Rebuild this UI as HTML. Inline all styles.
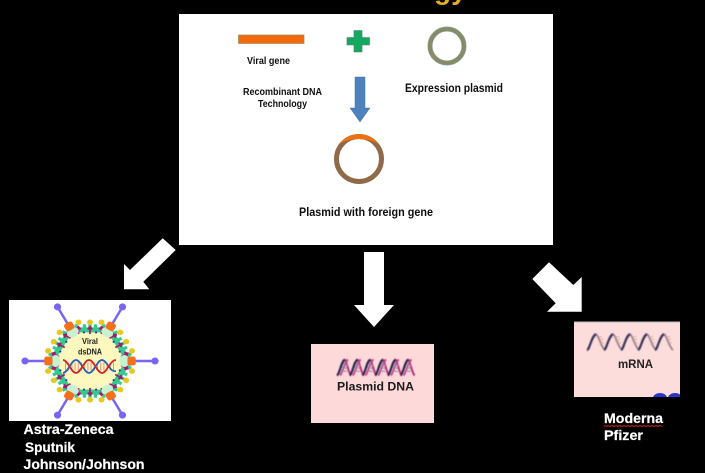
<!DOCTYPE html>
<html>
<head>
<meta charset="utf-8">
<style>
html,body{margin:0;padding:0;background:#000;}
svg{display:block;}
text{font-family:"Liberation Sans",sans-serif;font-weight:bold;}
</style>
</head>
<body>
<svg width="705" height="473" viewBox="0 0 705 473" xmlns="http://www.w3.org/2000/svg">
<defs>
<filter id="b" x="-5%" y="-5%" width="110%" height="110%"><feGaussianBlur stdDeviation="0.3"/></filter>
<filter id="h" x="-5%" y="-10%" width="110%" height="120%"><feGaussianBlur stdDeviation="0.45"/></filter>
<g id="edge">
  <rect x="-17" y="-33" width="34" height="5" fill="#35c98c"/>
  <g fill="#35c98c">
    <rect x="-14" y="-36" width="3" height="5"/><rect x="-6.500" y="-36" width="3" height="5"/><rect x="-1.500" y="-36" width="3" height="5"/><rect x="3.500" y="-36" width="3" height="5"/><rect x="11" y="-36" width="3" height="5"/>
  </g>
  <g fill="#e8c81f">
    <circle cx="-10.500" cy="-38" r="2.700"/><circle cx="0" cy="-38" r="2.700"/><circle cx="10.500" cy="-38" r="2.700"/>
  </g>
  <g stroke="#a8146e" stroke-width="1.600" fill="none">
    <path d="M-10.500 -26.500V-33.500M-12.500 -31L-10.500 -33.500L-8.500 -31"/>
    <path d="M0 -26.500V-33.500M-2 -31L0 -33.500L2 -31"/>
    <path d="M10.500 -26.500V-33.500M8.500 -31L10.500 -33.500L12.500 -31"/>
  </g>
  <g fill="#3030a8">
    <circle cx="-5.500" cy="-28" r="1"/><circle cx="5.500" cy="-28" r="1"/>
  </g>
</g>
<g id="spike">
  <ellipse cx="0" cy="-33" rx="6" ry="4.500" fill="#c5f2d2"/>
  <line x1="0" y1="-42" x2="0" y2="-62.500" stroke="#7766f0" stroke-width="2.400"/>
  <circle cx="0" cy="-62.500" r="3.500" fill="#7766f0"/>
  <rect x="-4.500" y="-44" width="9" height="8" rx="2.500" fill="#f5701a"/>
</g>
<g id="m">
  <path d="M9 1C12 3 14 14 18 17" fill="none" stroke="#8f7f8c" stroke-width="1.700"/>
  <path d="M11 8l5 -2M12.500 11.500l4 -2M11 4.500l4 -1" fill="none" stroke="#c8a090" stroke-width="0.900"/>
  <path d="M0 17C3 16 4 4 9 1" fill="none" stroke="#35355c" stroke-width="2.200"/>
</g>
<g id="p">
  <path d="M7 1C9 4 10 13 13 17" fill="none" stroke="#b82f80" stroke-width="2"/>
  <path d="M2 17C5 14 6 4 10 1" fill="none" stroke="#c03a8a" stroke-width="1.800"/>
  <path d="M3 8l6 2M3 12l6 1M5 5l5 2" stroke="#8f88a0" stroke-width="1" fill="none"/>
  <path d="M-1 17C2 15 3 3 7 1" fill="none" stroke="#23234c" stroke-width="2.200"/>
</g>
</defs>

<rect width="705" height="473" fill="#000"/>
<text x="434" y="-1" font-size="28" fill="#e6ac27">gy</text>

<!-- top panel -->
<rect x="179" y="14" width="374" height="231" fill="#fff"/>
<g filter="url(#b)">
  <rect x="238.500" y="35" width="65.500" height="8.500" fill="#f26b0f" stroke="#9a8a50" stroke-width="0.700"/>
  <path d="M354 30.500h8v7h7.500v7.500h-7.500v7h-8v-7h-7v-7.500h7z" fill="#18a860" stroke="#4a7a60" stroke-width="0.600"/>
  <circle cx="447" cy="46" r="17" fill="none" stroke="#7fa0a0" stroke-width="5"/>
  <circle cx="447" cy="46" r="17" fill="none" stroke="#8c8a62" stroke-width="3.600"/>
  <path d="M355 77h10v31h5l-10 14l-10-14h5z" fill="#4f81bd" stroke="#41719c" stroke-width="0.500"/>
  <circle cx="359" cy="159" r="22.500" fill="none" stroke="#8e6a48" stroke-width="5"/>
  <path d="M339.500 143.500A25 25 0 0 1 378.500 143.500Q359 134.500 339.500 143.500Z" fill="#f0700f"/>
  <g fill="#111">
    <text x="247" y="64" font-size="10" textLength="43" lengthAdjust="spacingAndGlyphs">Viral gene</text>
    <text x="243" y="95" font-size="10" textLength="79" lengthAdjust="spacingAndGlyphs">Recombinant DNA</text>
    <text x="258" y="107" font-size="10" textLength="49" lengthAdjust="spacingAndGlyphs">Technology</text>
    <text x="405" y="92" font-size="12" textLength="98" lengthAdjust="spacingAndGlyphs">Expression plasmid</text>
    <text x="299" y="216" font-size="12" textLength="134" lengthAdjust="spacingAndGlyphs">Plasmid with foreign gene</text>
  </g>
</g>

<!-- white arrows -->
<path d="M162.700 238.300L175.700 250L143.300 281.700L149.300 289.300H124V264L130 270Z" fill="#fff"/>
<path d="M364 252H384V305H394L374 327L354 305H364Z" fill="#fff"/>
<path d="M549 262.300L573.300 285L581.700 277V311.700H547L555.700 303.300L532.300 279Z" fill="#fff"/>

<!-- virus image -->
<rect x="9" y="300" width="162" height="121" fill="#fff"/>
<g filter="url(#b)">
  <g transform="translate(90 361) scale(1.1 1.02)">
    <polygon points="-37,0 -18.500,-32 18.500,-32 37,0 18.500,32 -18.500,32" fill="#fdf8bd"/>
    <use href="#edge"/>
    <use href="#edge" transform="rotate(60)"/>
    <use href="#edge" transform="rotate(120)"/>
    <use href="#edge" transform="rotate(180)"/>
    <use href="#edge" transform="rotate(240)"/>
    <use href="#edge" transform="rotate(300)"/>
  </g>
  <g transform="translate(90 361) scale(1.04 1)">
    <use href="#spike" transform="rotate(30)"/>
    <use href="#spike" transform="rotate(90)"/>
    <use href="#spike" transform="rotate(150)"/>
    <use href="#spike" transform="rotate(210)"/>
    <use href="#spike" transform="rotate(270)"/>
    <use href="#spike" transform="rotate(330)"/>
  </g>
  <path d="M65 366.500H115" stroke="#ef8f80" stroke-width="8" stroke-dasharray="1 2.200" fill="none"/>
  <path d="M63 373C68 373 71 360 76 360S84 373 89 373S97 360 102 360S110 373 116 371" fill="none" stroke="#2060b8" stroke-width="1.700"/>
  <path d="M63 360C68 360 71 373 76 373S84 360 89 360S97 373 102 373S110 360 116 360" fill="none" stroke="#d2232a" stroke-width="1.700"/>
  <text x="82" y="344" font-size="8.500" fill="#222" textLength="16" lengthAdjust="spacingAndGlyphs">Viral</text>
  <text x="78" y="354.500" font-size="8.500" fill="#222" textLength="24" lengthAdjust="spacingAndGlyphs">dsDNA</text>
</g>

<!-- Plasmid DNA -->
<rect x="311" y="344" width="123" height="79" fill="#fdd9da"/>
<g filter="url(#h)">
  <g transform="translate(338 358.500)">
    <use href="#p"/>
    <use href="#p" x="12.700"/>
    <use href="#p" x="25.400"/>
    <use href="#p" x="38.100"/>
    <use href="#p" x="50.800"/>
    <use href="#p" x="63.500"/>
  </g>
</g>
<text x="337" y="390.500" font-size="12" fill="#1a1a1a" textLength="77" lengthAdjust="spacingAndGlyphs" filter="url(#b)">Plasmid DNA</text>

<!-- mRNA -->
<rect x="574" y="322" width="106" height="75" fill="#fddcdc"/>
<rect x="574" y="321.500" width="106" height="1" fill="#bbb"/>
<g filter="url(#h)">
  <g transform="translate(587 333)">
    <use href="#m"/>
    <use href="#m" x="17"/>
    <use href="#m" x="34"/>
    <use href="#m" x="51"/>
    <use href="#m" x="68"/>
  </g>
</g>
<g filter="url(#b)">
  <text x="618" y="368" font-size="12" fill="#222" textLength="35" lengthAdjust="spacingAndGlyphs">mRNA</text>
  <ellipse cx="660" cy="398" rx="7" ry="5" fill="#2a35c8"/>
  <ellipse cx="675" cy="398" rx="7" ry="5" fill="#2a35c8"/>
</g>
<rect x="574" y="397" width="110" height="6" fill="#000"/>
<rect x="680" y="390" width="8" height="12" fill="#000"/>

<!-- labels -->
<g fill="#fff" font-size="14" stroke="#fff" stroke-width="0.200">
  <text x="23.500" y="434" textLength="90" lengthAdjust="spacingAndGlyphs">Astra-Zeneca</text>
  <text x="25" y="452" textLength="50" lengthAdjust="spacingAndGlyphs">Sputnik</text>
  <text x="23.500" y="469" textLength="121" lengthAdjust="spacingAndGlyphs">Johnson/Johnson</text>
  <text x="604" y="423" textLength="59" lengthAdjust="spacingAndGlyphs">Moderna</text>
  <text x="604" y="440" textLength="39" lengthAdjust="spacingAndGlyphs">Pfizer</text>
</g>
<path d="M604 425.500l2 1l2 -1l2 1l2 -1l2 1l2 -1l2 1l2 -1l2 1l2 -1l2 1l2 -1l2 1l2 -1l2 1l2 -1l2 1l2 -1l2 1l2 -1l2 1l2 -1l2 1l2 -1l2 1l2 -1l2 1l2 -1l2 1" fill="none" stroke="#d02020" stroke-width="1"/>
</svg>
</body>
</html>
